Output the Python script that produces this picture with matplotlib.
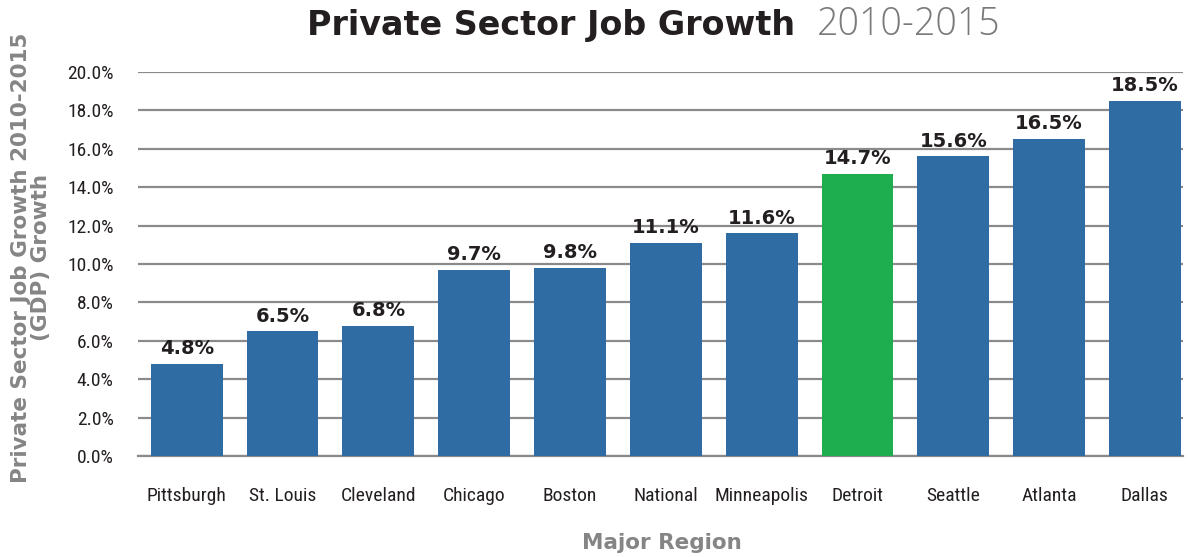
import matplotlib
matplotlib.use("Agg")
import matplotlib.pyplot as plt
from matplotlib.ticker import FuncFormatter
from matplotlib import font_manager

regions = ["Pittsburgh", "St. Louis", "Cleveland", "Chicago", "Boston", "National",
           "Minneapolis", "Detroit", "Seattle", "Atlanta", "Dallas"]
growth = [4.8, 6.5, 6.8, 9.7, 9.8, 11.1, 11.6, 14.7, 15.6, 16.5, 18.5]
highlight = "Detroit"
y_ticks = [0, 2, 4, 6, 8, 10, 12, 14, 16, 18, 20]

blue = "#2f6ca3"
green = "#1fae4f"
grid_gray = "#8a8a8a"
label_gray = "#858585"
dark = "#231f20"

names = {f.name for f in font_manager.fontManager.ttflist}
narrow_candidates = ["Roboto Condensed", "Liberation Sans Narrow", "Open Sans Condensed"]
narrow = [n for n in narrow_candidates if n in names] + ["DejaVu Sans"]
bold_font = ["DejaVu Sans"]
light_font = ["Open Sans", "DejaVu Sans"]

fig = plt.figure(figsize=(11.88, 5.57), dpi=100)
ax = fig.add_axes([0.116, 0.181, 0.880, 0.690])

x = list(range(len(regions)))
colors = [green if r == highlight else blue for r in regions]
ax.bar(x, growth, width=0.75, color=colors, zorder=3)

for xi, v in zip(x, growth):
    ax.text(xi, v + 0.3, f"{v:.1f}%", ha="center", va="bottom",
            fontsize=14, fontweight="bold", family=bold_font, color=dark, zorder=4)

ax.set_xlim(-0.51, 10.4)
ax.set_ylim(0, 20)
ax.set_yticks(y_ticks)
ax.yaxis.set_major_formatter(FuncFormatter(lambda v, p: f"{v:.1f}%"))
ax.set_xticks(x)
ax.set_xticklabels(regions)
ax.tick_params(axis="both", length=0, labelsize=14, colors=dark)
ax.tick_params(axis="y", pad=17.5)
ax.tick_params(axis="x", pad=22)
for lab in ax.get_xticklabels() + ax.get_yticklabels():
    lab.set_family(narrow)
    lab.set_stretch("condensed")

ax.grid(axis="y", color=grid_gray, linewidth=1.6, zorder=0)
for s in ["top", "right", "left"]:
    ax.spines[s].set_visible(False)
ax.spines["bottom"].set_color(grid_gray)
ax.spines["bottom"].set_linewidth(1.6)

fig.text(0.026, 0.537, "Private Sector Job Growth 2010-2015\n(GDP) Growth", rotation=90,
         ha="center", va="center", fontsize=15.5, fontweight="bold", family=bold_font,
         color=label_gray, linespacing=1.0)
fig.text(0.557, 0.025, "Major Region", ha="center", va="center", fontsize=15.5,
         fontweight="bold", family=bold_font, color=label_gray)

# Two-part title: bold main title followed by a lighter grey year range
t1 = fig.text(0.258, 0.955, "Private Sector Job Growth", ha="left", va="center",
              fontsize=24, fontweight="bold", family=bold_font, color=dark)
fig.canvas.draw()
bb = t1.get_window_extent()
x_next = (bb.x1 + 22) / fig.bbox.width
fig.text(x_next, 0.955, "2010-2015", ha="left", va="center", fontsize=27,
         fontweight="light", family=light_font, color="#7a7a7a")

fig.savefig("out.png", dpi=100)
